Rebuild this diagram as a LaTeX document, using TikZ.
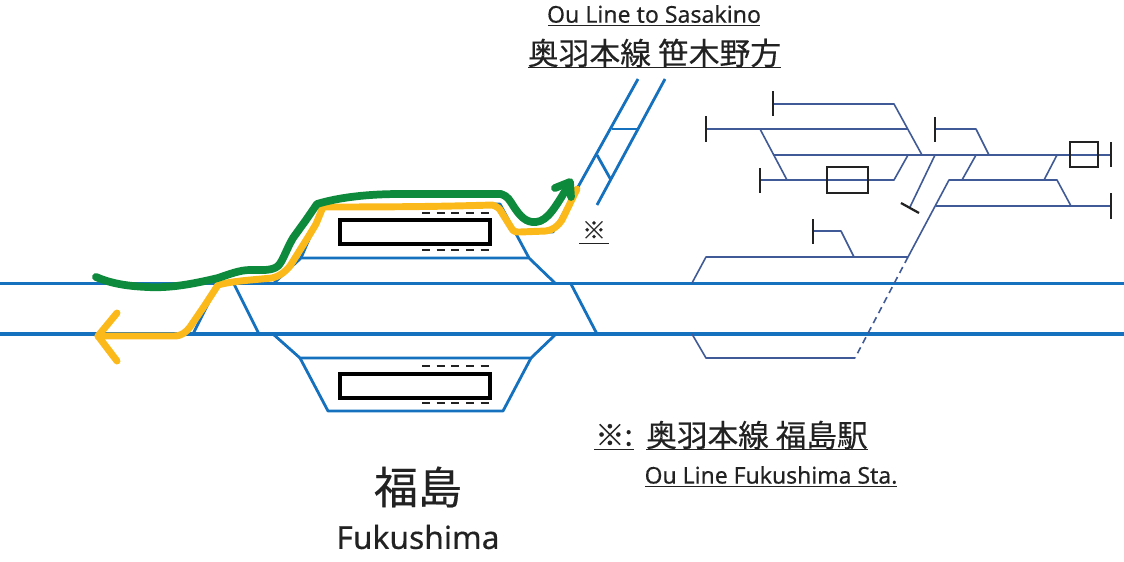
\documentclass[tikz,border=0pt]{standalone}
\usepackage{fontspec}
\setmainfont[FakeBold=0.35]{Noto Sans}
\newfontfamily\cjk[FakeBold=0.35]{Noto Sans CJK JP}
\definecolor{trackblue}{HTML}{1570BE}
\definecolor{depot}{HTML}{3F5A96}
\definecolor{routegreen}{HTML}{0E8A3C}
\definecolor{routeyellow}{HTML}{FBB91A}
\definecolor{ink}{HTML}{222222}
\tikzset{
  main/.style={draw=trackblue,line width=2.6pt,line join=round},
  track/.style={draw=trackblue,line width=2.1pt,line join=round},
  yard/.style={draw=depot,line width=1.2pt,line join=round},
  stopper/.style={draw=ink,line width=1.7pt},
  signalbox/.style={draw=ink,line width=1.9pt},
  platform/.style={draw=black,line width=2.9pt},
  platedge/.style={draw=ink,line width=1.5pt,dash pattern=on 6pt off 5pt},
  routeG/.style={draw=routegreen,line width=5.8pt,line cap=round,line join=round},
  routeY/.style={draw=routeyellow,line width=5.2pt,line cap=round,line join=round},
  label/.style={inner sep=0pt,text=ink},
  ul/.style={draw=ink,line width=1.3pt}
}
\begin{document}
\begin{tikzpicture}[x=0.75pt,y=-0.75pt]
\useasboundingbox (0,0) rectangle (1124,561);
% main lines
\draw[main] (0,283.5) -- (1124,283.5);
\draw[main] (0,334) -- (1124,334);
% crossovers
\draw[track] (193,334) -- (218,284);
\draw[track] (234,284) -- (259,334);
\draw[track] (571,284) -- (597,334);
% upper platform loop
\draw[track] (273,284) -- (301,258) -- (529,258) -- (556,284);
\draw[track] (301,258) -- (323,207) -- (500,204) -- (529,258);
\draw[track] (514,232) -- (553,232) -- (638,79);
\draw[track] (597,205) -- (665,79);
\draw[track] (612,129) -- (637,129);
\draw[track] (597,155) -- (611,180);
% lower platform loop
\draw[track] (273,334) -- (300,358) -- (531,358) -- (556,334);
\draw[track] (300,358) -- (328,411) -- (503,411) -- (531,358);
% platforms
\draw[platform] (340,220) rectangle (490,244);
\draw[platform] (340,374) rectangle (490,398);
\draw[platedge] (422,213) -- (490,213);
\draw[platedge] (422,250) -- (490,250);
\draw[platedge] (422,366) -- (490,366);
\draw[platedge] (422,403) -- (490,403);
% yard
\draw[yard] (773,104) -- (894,104) -- (922,155);
\draw[yard] (706,129) -- (908,129);
\draw[yard] (760,129) -- (787,180);
\draw[yard] (773,155) -- (1111,155);
\draw[yard] (760,180) -- (894,180) -- (908,155);
\draw[yard] (935,155) -- (910,207);
\draw[yard] (935,129) -- (976,129) -- (989,155);
\draw[yard] (976,155) -- (962,180);
\draw[yard] (908,257) -- (949,180) -- (1057,180) -- (1071,206);
\draw[yard] (1057,155) -- (1044,180);
\draw[yard] (936,206) -- (1111,206);
\draw[yard] (813,231) -- (841,231) -- (854,257);
\draw[yard] (692,283) -- (706,257) -- (908,257);
\draw[yard] (692,334) -- (706,358) -- (855,358);
\draw[yard,dashed,dash pattern=on 5pt off 3.5pt] (908,257) -- (855,358);
% buffer stops
\draw[stopper] (773,91) -- (773,116);
\draw[stopper] (706,116) -- (706,142);
\draw[stopper] (760,168) -- (760,193);
\draw[stopper] (935,117) -- (935,142);
\draw[stopper] (1111,142) -- (1111,167);
\draw[stopper] (1111,193) -- (1111,219);
\draw[stopper] (813,219) -- (813,244);
\draw[stopper] (901,203) -- (919,213);
% boxes
\draw[signalbox] (827,167) rectangle (868,193);
\draw[signalbox] (1070,142) rectangle (1098,167);
% drawn routes
\draw[routeY] (98,336) -- (174,336) .. controls (182,336) and (186,332) .. (190,327)
  -- (205,305) -- (218,285) .. controls (232,281) and (252,280) .. (272,278)
  .. controls (280,276) and (285,272) .. (290,266) -- (310,234) -- (316,224) -- (323,207)
  .. controls (360,207) and (430,207) .. (492,205) .. controls (497,206) and (500,209) .. (502,213)
  -- (512,229) .. controls (514,232) and (516,232) .. (520,232) -- (546,231)
  .. controls (553,230) and (558,226) .. (562,220) -- (577,189);
\draw[routeY] (117,313) -- (98,336) -- (117,361);
\draw[routeG] (96,277) .. controls (110,283) and (125,286) .. (147,287)
  .. controls (165,288) and (185,286) .. (218,278) .. controls (230,274) and (240,270) .. (250,270)
  .. controls (262,270) and (272,271) .. (278,266) .. controls (283,261) and (286,250) .. (293,238)
  -- (306,220) -- (317,204) .. controls (340,197) and (370,194) .. (400,194)
  -- (501,194) .. controls (508,196) and (510,201) .. (514,207)
  .. controls (520,216) and (526,223) .. (536,222) .. controls (548,221) and (556,206) .. (570,183);
\draw[routeG] (555,188) -- (570,182) -- (571,197);
% texts
\node[label,font=\fontsize{17.3pt}{20pt}\selectfont] (sasaEn) at (654,14) {Ou Line to Sasakino};
\draw[ul] (548,25.5) -- (760,25.5);
\node[label,font=\cjk\fontsize{23.1pt}{26pt}\selectfont] (sasaJa) at (654.5,53) {奥羽本線 笹木野方};
\draw[ul] (528,67.5) -- (781,67.5);
\node[label,font=\cjk\fontsize{18pt}{20pt}\selectfont] (markA) at (594,230) {※};
\draw[ul] (579,243.5) -- (609,243.5);
\node[label,font=\cjk\fontsize{33pt}{36pt}\selectfont] (stnJa) at (418,487) {福島};
\node[label,font=\fontsize{23.8pt}{26pt}\selectfont] (stnEn) at (418,537) {Fukushima};
\node[label,font=\cjk\fontsize{22pt}{26pt}\selectfont] (markB) at (614,435) {※:};
\draw[ul] (594,449.5) -- (634,449.5);
\node[label,font=\cjk\fontsize{23pt}{26pt}\selectfont] (fukuJa) at (757,435) {奥羽本線 福島駅};
\draw[ul] (646,449.5) -- (868,449.5);
\node[label,font=\fontsize{17.2pt}{20pt}\selectfont] (fukuEn) at (771,475) {Ou Line Fukushima Sta.};
\draw[ul] (645,486.5) -- (897,486.5);
\end{tikzpicture}
\end{document}
